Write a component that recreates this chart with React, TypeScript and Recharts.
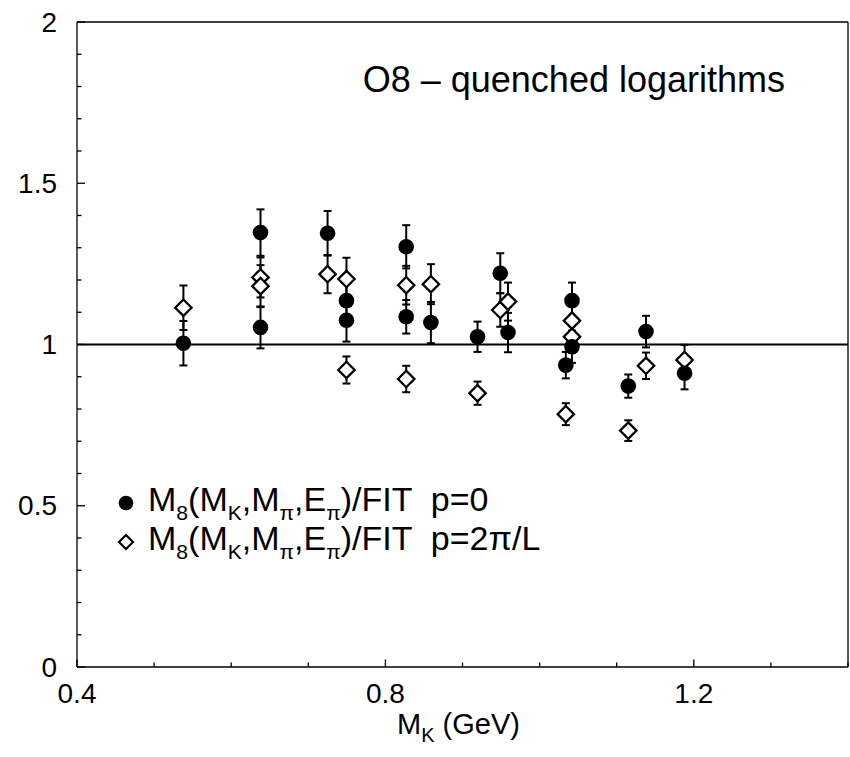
import React from "react";
import { ScatterChart, Scatter, XAxis, YAxis, ErrorBar, ReferenceLine, Legend, Label } from "recharts";

const FONT = "'Liberation Sans', Arial, Helvetica, sans-serif";

// kaon mass (GeV), same set for both momenta
const MK = [0.538, 0.638, 0.638, 0.725, 0.7495, 0.7495, 0.827, 0.827, 0.859, 0.9195, 0.949, 0.959, 1.034, 1.042, 1.042, 1.115, 1.138, 1.188];

// M8 / FIT, p = 0
const R_P0 = [1.004, 1.347, 1.053, 1.345, 1.136, 1.075, 1.303, 1.086, 1.068, 1.024, 1.221, 1.037, 0.936, 1.136, 0.993, 0.871, 1.04, 0.911];
const ERR_P0 = [0.069, 0.072, 0.065, 0.069, 0.062, 0.066, 0.067, 0.052, 0.064, 0.047, 0.062, 0.061, 0.041, 0.056, 0.05, 0.036, 0.049, 0.05];

// M8 / FIT, p = 2pi/L
const R_P2 = [1.114, 1.208, 1.181, 1.218, 1.203, 0.921, 1.184, 0.893, 1.187, 0.849, 1.107, 1.133, 0.784, 1.074, 1.024, 0.733, 0.934, 0.952];
const ERR_P2 = [0.069, 0.062, 0.065, 0.059, 0.066, 0.042, 0.06, 0.041, 0.062, 0.036, 0.052, 0.059, 0.034, 0.05, 0.05, 0.032, 0.041, 0.047];

const X_TICKS = [0.4, 0.5, 0.6, 0.7, 0.8, 0.9, 1.0, 1.1, 1.2, 1.3, 1.4];
const X_MAJOR = [0.4, 0.8, 1.2];
const Y_TICKS = [0, 0.1, 0.2, 0.3, 0.4, 0.5, 0.6, 0.7, 0.8, 0.9, 1, 1.1, 1.2, 1.3, 1.4, 1.5, 1.6, 1.7, 1.8, 1.9, 2];
const Y_MAJOR = [0, 0.5, 1, 1.5, 2];

const p0 = MK.map((mk, i) => ({ mk, r: R_P0[i], err: ERR_P0[i] }));
const p2 = MK.map((mk, i) => ({ mk, r: R_P2[i], err: ERR_P2[i] }));

const AX = { stroke: "#000", strokeWidth: 1.3 };

const BottomTick = ({ x, y, payload }: any) => {
  const major = X_MAJOR.includes(payload.value);
  return (
    <g>
      <line x1={x} y1={y} x2={x} y2={y - (major ? 7.5 : 4.5)} {...AX} />
      {major && (
        <text x={x} y={y + 26} textAnchor="middle" dominantBaseline="central" fontSize={28} fontFamily={FONT} fill="#000">
          {String(payload.value)}
        </text>
      )}
    </g>
  );
};

const TopTick = ({ x, y, payload }: any) => {
  const major = X_MAJOR.includes(payload.value);
  return <line x1={x} y1={y} x2={x} y2={y + (major ? 7.5 : 4.5)} {...AX} />;
};

const LeftTick = ({ x, y, payload }: any) => {
  const major = Y_MAJOR.includes(payload.value);
  return (
    <g>
      <line x1={x} y1={y} x2={x + (major ? 8 : 4.5)} y2={y} {...AX} />
      {major && (
        <text x={x - 20} y={y} textAnchor="end" dominantBaseline="central" fontSize={28} fontFamily={FONT} fill="#000">
          {String(payload.value)}
        </text>
      )}
    </g>
  );
};

const RightTick = ({ x, y, payload }: any) => {
  const major = Y_MAJOR.includes(payload.value);
  return <line x1={x} y1={y} x2={x - (major ? 8 : 4.5)} y2={y} {...AX} />;
};

const Dot = ({ cx, cy }: any) => <circle cx={cx} cy={cy} r={7.8} fill="#000" />;

const Diamond = ({ cx, cy }: any) => (
  <polygon
    points={`${cx},${cy - 8.2} ${cx + 8.2},${cy} ${cx},${cy + 8.2} ${cx - 8.2},${cy}`}
    fill="#fff"
    stroke="#000"
    strokeWidth={2.3}
  />
);

const TitleLabel = ({ viewBox }: any) => (
  <text x={viewBox.x + viewBox.width - 63} y={viewBox.y + 71} textAnchor="end" fontSize={36} fontFamily={FONT} fill="#000">
    O8 – quenched logarithms
  </text>
);

const XTitle = ({ viewBox }: any) => (
  <text x={viewBox.x + viewBox.width / 2 - 4} y={viewBox.y + 67} textAnchor="middle" fontSize={29} fontFamily={FONT} fill="#000">
    M<tspan fontSize={20} dy={8}>K</tspan>
    <tspan dy={-8}> (GeV)</tspan>
  </text>
);

const Sub = ({ children }: any) => (
  <span style={{ fontSize: "0.62em", position: "relative", top: "0.45em" }}>{children}</span>
);

const LEGEND_ROWS = [
  { kind: "circle", p: "p=0" },
  { kind: "diamond", p: "p=2π/L" },
];

const renderLegend = () => (
  <div style={{ fontFamily: FONT, fontSize: 34, color: "#000" }}>
    {LEGEND_ROWS.map((row) => (
      <div key={row.kind} style={{ display: "flex", alignItems: "center", height: 38.5 }}>
        <svg width={20} height={20} style={{ marginTop: 3 }}>
          {row.kind === "circle" ? (
            <circle cx={10} cy={10} r={7.3} fill="#000" />
          ) : (
            <polygon points="10,3 17,10 10,17 3,10" fill="#fff" stroke="#000" strokeWidth={2.2} />
          )}
        </svg>
        <span style={{ marginLeft: 12, lineHeight: "38.5px", whiteSpace: "pre" }}>
          M<Sub>8</Sub>(M<Sub>K</Sub>,M<Sub>π</Sub>,E<Sub>π</Sub>)/FIT  {row.p}
        </span>
      </div>
    ))}
  </div>
);

export default function App() {
  return (
    <div style={{ position: "absolute", left: 0, top: 0, background: "#fff" }}>
      <ScatterChart width={850} height={757} margin={{ top: 21, right: 1, bottom: 0, left: 0 }}>
        <XAxis
          xAxisId="b"
          dataKey="mk"
          type="number"
          domain={[0.4, 1.4]}
          ticks={X_TICKS}
          interval={0}
          height={90}
          tickSize={0}
          tickMargin={0}
          tickLine={false}
          axisLine={AX}
          tick={BottomTick}
        >
          <Label content={XTitle} />
        </XAxis>
        <XAxis
          xAxisId="t"
          orientation="top"
          type="number"
          domain={[0.4, 1.4]}
          ticks={X_TICKS}
          interval={0}
          height={1}
          tickSize={0}
          tickMargin={0}
          tickLine={false}
          axisLine={AX}
          tick={TopTick}
        >
          <Label content={TitleLabel} />
        </XAxis>
        <YAxis
          yAxisId="l"
          dataKey="r"
          type="number"
          domain={[0, 2]}
          ticks={Y_TICKS}
          interval={0}
          width={77}
          tickSize={0}
          tickMargin={0}
          tickLine={false}
          axisLine={AX}
          tick={LeftTick}
        />
        <YAxis
          yAxisId="r"
          orientation="right"
          type="number"
          domain={[0, 2]}
          ticks={Y_TICKS}
          interval={0}
          width={1}
          tickSize={0}
          tickMargin={0}
          tickLine={false}
          axisLine={AX}
          tick={RightTick}
        />
        <ReferenceLine xAxisId="b" yAxisId="l" y={1} stroke="#000" strokeWidth={2} />
        <Scatter name="p=2π/L" data={p2} xAxisId="b" yAxisId="l" shape={Diamond} isAnimationActive={false}>
          <ErrorBar dataKey="err" direction="y" width={4} stroke="#000" strokeWidth={2} isAnimationActive={false} />
        </Scatter>
        <Scatter name="p=0" data={p0} xAxisId="b" yAxisId="l" shape={Dot} isAnimationActive={false}>
          <ErrorBar dataKey="err" direction="y" width={4} stroke="#000" strokeWidth={2} isAnimationActive={false} />
        </Scatter>
        <Legend
          layout="horizontal"
          verticalAlign="middle"
          align="center"
          wrapperStyle={{ left: 116, top: 482.5, width: "auto" }}
          content={renderLegend}
        />
      </ScatterChart>
    </div>
  );
}
